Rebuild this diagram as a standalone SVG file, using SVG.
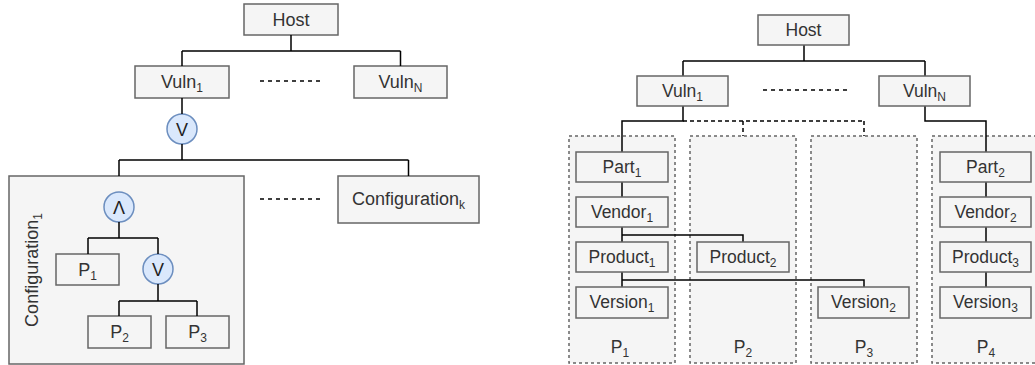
<svg xmlns="http://www.w3.org/2000/svg" width="1035" height="365" viewBox="0 0 1035 365">
  <style>
    .box { fill: #f5f5f5; stroke: #666666; stroke-width: 1.5; }
    .group { fill: #f5f5f5; stroke: #666666; stroke-width: 1.5; stroke-dasharray: 3 3; }
    .op { fill: #dae8fc; stroke: #6c8ebf; stroke-width: 1.5; }
    .edge { fill: none; stroke: #000000; stroke-width: 1.5; }
    .dash { fill: none; stroke: #000000; stroke-width: 1.5; stroke-dasharray: 4 4; }
    .edge-dash { fill: none; stroke: #000000; stroke-width: 1.5; stroke-dasharray: 4 3; }
    .lbl-l { font-family: "Liberation Sans", Arial, sans-serif; font-size: 18px; fill: #333333; text-anchor: middle; }
    .lbl-r { font-family: "Liberation Sans", Arial, sans-serif; font-size: 17.5px; fill: #333333; text-anchor: middle; }
    .sub { font-size: 12px; }
    .sym { font-family: "Liberation Sans", Arial, sans-serif; font-size: 18px; fill: #222222; text-anchor: middle; }
  </style>

  <!-- ===== Left tree: host / vulnerabilities / configurations ===== -->
  <g id="l-host">
    <rect class="box" x="244" y="4" width="94" height="31"/>
    <text class="lbl-l" x="291" y="26">Host</text>
  </g>
  <g id="l-vuln1">
    <rect class="box" x="135" y="66" width="94" height="32"/>
    <text class="lbl-l" x="182" y="88">Vuln<tspan class="sub" dy="4">1</tspan></text>
  </g>
  <g id="l-vulnN">
    <rect class="box" x="354" y="66" width="93" height="32"/>
    <text class="lbl-l" x="400.5" y="88">Vuln<tspan class="sub" dy="4">N</tspan></text>
  </g>
  <g id="l-or-top">
    <circle class="op" cx="182" cy="129" r="15"/>
    <text class="sym" x="182" y="135.5">V</text>
  </g>
  <g id="l-config1">
    <rect class="box" x="9" y="176" width="235" height="188"/>
    <text class="lbl-l" transform="translate(38,270) rotate(-90)">Configuration<tspan class="sub" dy="4">1</tspan></text>
  </g>
  <g id="l-configk">
    <rect class="box" x="338" y="176" width="141" height="47"/>
    <text class="lbl-l" x="408.5" y="205">Configuration<tspan class="sub" dy="4">k</tspan></text>
  </g>
  <g id="l-and">
    <circle class="op" cx="119" cy="207" r="15"/>
    <text class="sym" x="119" y="213.5">Λ</text>
  </g>
  <g id="l-p1">
    <rect class="box" x="56" y="254" width="63" height="31"/>
    <text class="lbl-l" x="87.5" y="276">P<tspan class="sub" dy="4">1</tspan></text>
  </g>
  <g id="l-or-inner">
    <circle class="op" cx="158" cy="269" r="15"/>
    <text class="sym" x="158" y="275.5">V</text>
  </g>
  <g id="l-p2">
    <rect class="box" x="88" y="316" width="63" height="32"/>
    <text class="lbl-l" x="119.5" y="338">P<tspan class="sub" dy="4">2</tspan></text>
  </g>
  <g id="l-p3">
    <rect class="box" x="166" y="316" width="63" height="32"/>
    <text class="lbl-l" x="197.5" y="338">P<tspan class="sub" dy="4">3</tspan></text>
  </g>

  <!-- connectors drawn after the nodes so the ones inside Configuration1 stay visible -->
  <g id="left-connectors">
    <path class="edge" d="M291 35 V51 M182 51 H400.5 M182 51 V66 M400.5 51 V66"/>
    <path class="edge" d="M182 98 V114 M182 144 V160 M119 160 H408.5 M119 160 V176 M408.5 160 V176"/>
    <path class="edge" d="M119 222 V238 M88 238 H158 M88 238 V254 M158 238 V254"/>
    <path class="edge" d="M158 284 V301 M119 301 H197 M119 301 V316 M197 301 V316"/>
    <path class="dash" d="M260 81 H322 M260 199 H322"/>
  </g>

  <!-- ===== Right tree: CPE hierarchy grouped into platforms ===== -->
  <g id="r-groups">
    <g id="r-group-p1">
      <rect class="group" x="569" y="136" width="106" height="227"/>
      <text class="lbl-r" x="620" y="353">P<tspan class="sub" dy="4">1</tspan></text>
    </g>
    <g id="r-group-p2">
      <rect class="group" x="690" y="136" width="106" height="227"/>
      <text class="lbl-r" x="743" y="353">P<tspan class="sub" dy="4">2</tspan></text>
    </g>
    <g id="r-group-p3">
      <rect class="group" x="811" y="136" width="106" height="227"/>
      <text class="lbl-r" x="864" y="353">P<tspan class="sub" dy="4">3</tspan></text>
    </g>
    <g id="r-group-p4">
      <rect class="group" x="932" y="136" width="106" height="227"/>
      <text class="lbl-r" x="986" y="353">P<tspan class="sub" dy="4">4</tspan></text>
    </g>
  </g>

  <g id="right-connectors">
    <path class="edge" d="M804 45 V61 M683 61 H925 M683 61 V76 M925 61 V76"/>
    <path class="edge" d="M683 106 V121 H622 V152"/>
    <path class="edge-dash" d="M683 121 H864 M743 121 V136 M864 121 V136"/>
    <path class="edge" d="M925 106 V121 H986 V152"/>
    <path class="edge" d="M622 182 V197 M622 227 V242 M622 235 H743 V242"/>
    <path class="edge" d="M622 272 V287 M622 280 H864 V287"/>
    <path class="edge" d="M986 182 V197 M986 227 V242 M986 272 V287"/>
    <path class="dash" d="M763 90 H850"/>
  </g>

  <g id="r-host">
    <rect class="box" x="758" y="15" width="91" height="30"/>
    <text class="lbl-r" x="803.5" y="36">Host</text>
  </g>
  <g id="r-vuln1">
    <rect class="box" x="637" y="76" width="91" height="30"/>
    <text class="lbl-r" x="682.5" y="97">Vuln<tspan class="sub" dy="4">1</tspan></text>
  </g>
  <g id="r-vulnN">
    <rect class="box" x="879" y="76" width="91" height="30"/>
    <text class="lbl-r" x="924.5" y="97">Vuln<tspan class="sub" dy="4">N</tspan></text>
  </g>

  <g id="r-part1">
    <rect class="box" x="576" y="152" width="92" height="30"/>
    <text class="lbl-r" x="622" y="173">Part<tspan class="sub" dy="4">1</tspan></text>
  </g>
  <g id="r-vendor1">
    <rect class="box" x="576" y="197" width="92" height="30"/>
    <text class="lbl-r" x="622" y="218">Vendor<tspan class="sub" dy="4">1</tspan></text>
  </g>
  <g id="r-product1">
    <rect class="box" x="576" y="242" width="92" height="30"/>
    <text class="lbl-r" x="622" y="263">Product<tspan class="sub" dy="4">1</tspan></text>
  </g>
  <g id="r-version1">
    <rect class="box" x="576" y="287" width="92" height="31"/>
    <text class="lbl-r" x="622" y="308">Version<tspan class="sub" dy="4">1</tspan></text>
  </g>
  <g id="r-product2">
    <rect class="box" x="697" y="242" width="92" height="30"/>
    <text class="lbl-r" x="743" y="263">Product<tspan class="sub" dy="4">2</tspan></text>
  </g>
  <g id="r-version2">
    <rect class="box" x="818" y="287" width="91" height="31"/>
    <text class="lbl-r" x="863.5" y="308">Version<tspan class="sub" dy="4">2</tspan></text>
  </g>
  <g id="r-part2">
    <rect class="box" x="940" y="152" width="91" height="30"/>
    <text class="lbl-r" x="985.5" y="173">Part<tspan class="sub" dy="4">2</tspan></text>
  </g>
  <g id="r-vendor2">
    <rect class="box" x="940" y="197" width="91" height="30"/>
    <text class="lbl-r" x="985.5" y="218">Vendor<tspan class="sub" dy="4">2</tspan></text>
  </g>
  <g id="r-product3">
    <rect class="box" x="940" y="242" width="91" height="30"/>
    <text class="lbl-r" x="985.5" y="263">Product<tspan class="sub" dy="4">3</tspan></text>
  </g>
  <g id="r-version3">
    <rect class="box" x="940" y="287" width="91" height="31"/>
    <text class="lbl-r" x="985.5" y="308">Version<tspan class="sub" dy="4">3</tspan></text>
  </g>
</svg>
